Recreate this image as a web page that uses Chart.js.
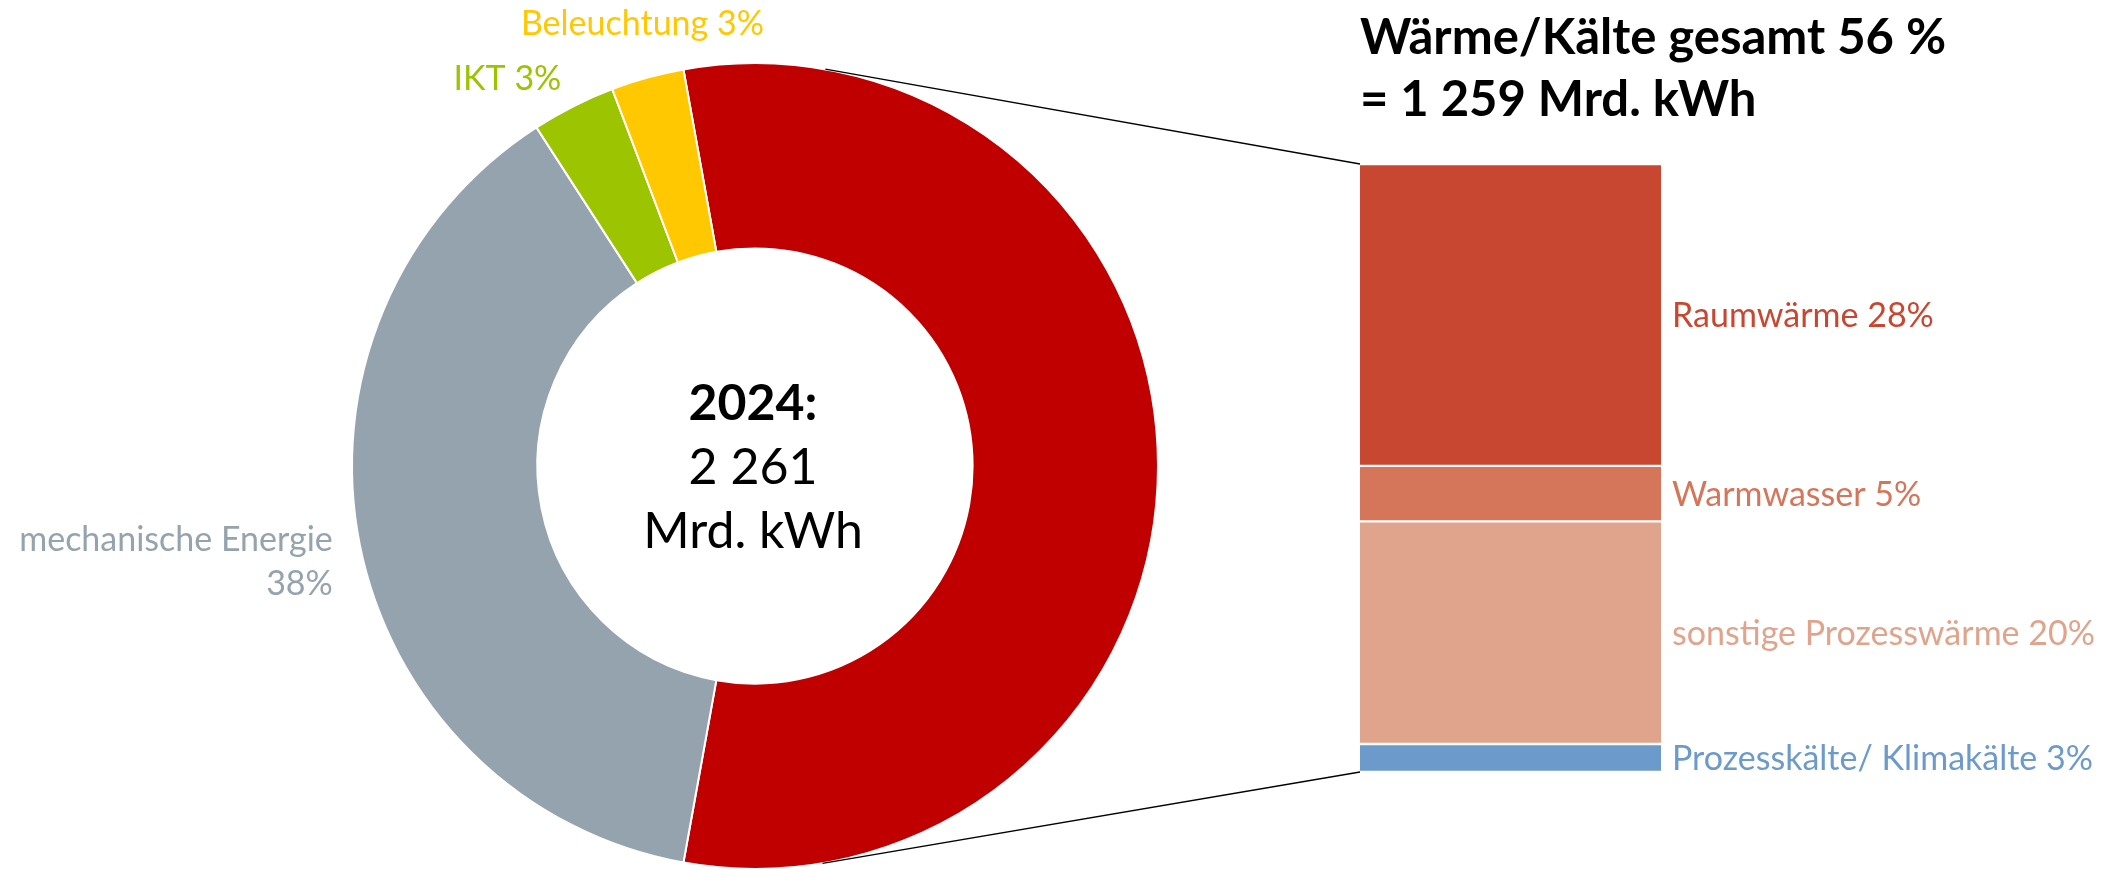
<!DOCTYPE html>
<html><head><meta charset="utf-8">
<script src="https://cdn.jsdelivr.net/npm/chart.js@4.4.1/dist/chart.umd.min.js"></script>
<style>
html,body{margin:0;padding:0;background:#fff;}
#wrap{position:relative;width:2118px;height:870px;overflow:hidden;}
#wrap canvas{position:absolute;left:0;top:0;}
</style></head><body>
<div id="wrap"><canvas id="pie" width="2118" height="870"></canvas><canvas id="bar" width="2118" height="870"></canvas></div>
<script>
// ---- data (Mrd. kWh, 2024) ----
const pieLabels = ['Wärme/Kälte', 'mechanische Energie', 'IKT', 'Beleuchtung'];
const pieValues = [1259, 860, 76, 66];
const pieText = [null, ['mechanische Energie', '38%'], ['IKT 3%'], ['Beleuchtung 3%']];
const pieColors = ['#C00000', '#95A3AE', '#9CC400', '#FFC800'];

const barLabels = ['Raumwärme 28%', 'Warmwasser 5%', 'sonstige Prozesswärme 20%', 'Prozesskälte/ Klimakälte 3%'];
const barValues = [625, 115, 461, 58];
const barColors = ['#C84730', '#D5765B', '#E0A48C', '#6C9ACB'];

const centerText = ['2024:', '2 261', 'Mrd. kWh'];
const titleText = ['Wärme/Kälte gesamt 56 %', '= 1 259 Mrd. kWh'];

// ---- label layout (style, not data) ----
const pieLabelAlign = [null, 'right', 'right', 'center'];
const pieLabelShift = [null, [-27, 16], [-12, -28], [-5, -55]];
const FONT = 'Lato, Carlito, "Open Sans", sans-serif';
const CAP = 0.717;
const LABEL_SIZE = 34;

const total = pieValues.reduce((a, b) => a + b, 0);
const barTotal = barValues.reduce((a, b) => a + b, 0);
const rotation = 90 - (pieValues[0] / total) * 180;

const pieLabelPlugin = {
  id: 'pieLabels',
  afterDatasetsDraw(chart) {
    const ctx = chart.ctx;
    const meta = chart.getDatasetMeta(0);
    ctx.save();
    meta.data.forEach((arc, i) => {
      if (!pieText[i]) return;
      const a = (arc.startAngle + arc.endAngle) / 2;
      const px = arc.x + Math.cos(a) * arc.outerRadius + pieLabelShift[i][0];
      const py = arc.y + Math.sin(a) * arc.outerRadius + pieLabelShift[i][1];
      const size = LABEL_SIZE, lh = 44;
      ctx.font = size + 'px ' + FONT;
      ctx.fillStyle = pieColors[i];
      ctx.textAlign = pieLabelAlign[i];
      ctx.textBaseline = 'alphabetic';
      const lines = pieText[i];
      const y0 = py - (lines.length - 1) * lh / 2 + size * CAP / 2;
      lines.forEach((t, k) => ctx.fillText(t, px, y0 + k * lh));
    });
    // centre text
    const arc = meta.data[0];
    const size = 50, lh = 64;
    ctx.fillStyle = '#000';
    ctx.textAlign = 'center';
    ctx.textBaseline = 'alphabetic';
    centerText.forEach((t, k) => {
      ctx.font = (k === 0 ? 'bold ' : '') + size + 'px ' + FONT;
      ctx.fillText(t, arc.x - 2, arc.y + (k - 1) * lh + size * CAP / 2);
    });
    ctx.restore();
  }
};

const pieChart = new Chart(document.getElementById('pie'), {
  type: 'doughnut',
  data: {
    labels: pieLabels,
    datasets: [{
      data: pieValues,
      backgroundColor: pieColors,
      borderColor: '#ffffff',
      borderWidth: 2,
      hoverOffset: 0,
      offset: 0
    }]
  },
  options: {
    responsive: false,
    animation: false,
    events: [],
    rotation: rotation,
    cutout: '54%',
    layout: { padding: { left: 351, top: 62, right: 959, bottom: 0 } },
    plugins: { legend: { display: false }, tooltip: { enabled: false } }
  },
  plugins: [pieLabelPlugin]
});

const barDecor = {
  id: 'barDecor',
  afterDatasetsDraw(chart) {
    const ctx = chart.ctx;
    ctx.save();
    // segment labels
    chart.data.datasets.forEach((ds, di) => {
      const el = chart.getDatasetMeta(di).data[0];
      const right = el.x + el.width / 2;
      const mid = (el.y + el.base) / 2;
      const size = LABEL_SIZE;
      ctx.font = size + 'px ' + FONT;
      ctx.fillStyle = ds.backgroundColor;
      ctx.textAlign = 'left';
      ctx.textBaseline = 'alphabetic';
      ctx.fillText(ds.label, right + 11, mid + size * CAP / 2);
    });
    const n = chart.data.datasets.length;
    const topEl = chart.getDatasetMeta(n - 1).data[0];
    const botEl = chart.getDatasetMeta(0).data[0];
    const left = topEl.x - topEl.width / 2;
    // title
    ctx.fillStyle = '#000';
    ctx.font = 'bold 49px ' + FONT;
    ctx.textAlign = 'left';
    ctx.fillText(titleText[0], left, topEl.y - 110);
    ctx.fillText(titleText[1], left, topEl.y - 48);
    // connector lines tangent to the doughnut
    const arc = pieChart.getDatasetMeta(0).data[0];
    const cx = arc.x, cy = arc.y, r = arc.outerRadius;
    const tangent = (P, sign) => {
      const dx = P[0] - cx, dy = P[1] - cy;
      const d = Math.hypot(dx, dy);
      const phi = Math.atan2(dy, dx);
      const al = Math.acos(r / d);
      const t = phi + sign * al;
      return [cx + r * Math.cos(t), cy + r * Math.sin(t)];
    };
    const pTop = [left, topEl.y];
    const pBot = [left, botEl.base];
    ctx.strokeStyle = '#000';
    ctx.lineWidth = 1.3;
    [[pTop, -1], [pBot, 1]].forEach(([P, s]) => {
      const T = tangent(P, s);
      ctx.beginPath();
      ctx.moveTo(T[0], T[1]);
      ctx.lineTo(P[0], P[1]);
      ctx.stroke();
    });
    ctx.restore();
  }
};

new Chart(document.getElementById('bar'), {
  type: 'bar',
  data: {
    labels: ['Wärme/Kälte'],
    datasets: barValues.map((v, i) => ({
      label: barLabels[i],
      data: [v],
      backgroundColor: barColors[i],
      borderColor: '#ffffff',
      borderWidth: { top: 1.5, bottom: 1.5, left: 0, right: 0 },
      borderSkipped: false,
      barPercentage: 1,
      categoryPercentage: 1
    })).reverse()
  },
  options: {
    responsive: false,
    animation: false,
    events: [],
    layout: { padding: { left: 1360, right: 457, top: 164, bottom: 98 } },
    scales: {
      x: { stacked: true, display: false },
      y: { stacked: true, display: false, min: 0, max: barTotal }
    },
    plugins: { legend: { display: false }, tooltip: { enabled: false } }
  },
  plugins: [barDecor]
});
</script>
</body></html>
